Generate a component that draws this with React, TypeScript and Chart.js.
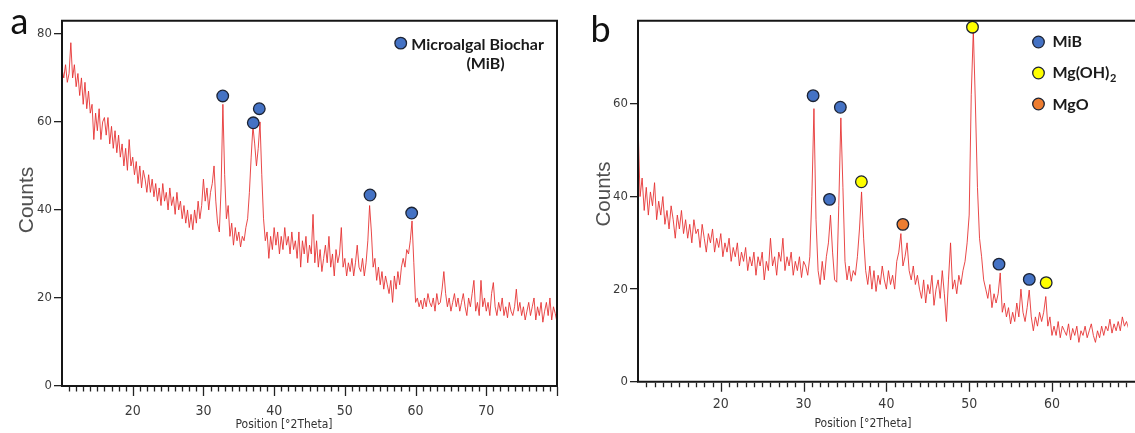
import React, { useEffect, useRef } from 'react';
import { Chart, registerables } from 'chart.js';

Chart.register(...registerables);

// ---------- data ----------
const X_START = 10;
const X_STEP = 0.25;

// Panel a: Microalgal biochar (MiB), counts sampled every 0.25 °2Theta from 10 to 80
const countsA = [
  72, 70, 73, 69, 71, 78, 70, 73, 68,
  71, 66, 70, 64, 69, 63, 67, 62,
  64, 56, 62, 58, 63, 56, 60, 61,
  57, 61, 55, 59, 54, 58, 53, 57,
  52, 55, 50, 54, 49, 56, 50, 52,
  48, 51, 46, 50, 45, 49, 47, 44,
  48, 44, 47, 43, 46, 42, 45, 41,
  46, 42, 44, 40, 45, 41, 43, 39,
  44, 40, 42, 38, 41, 37, 40, 36,
  39, 35.5, 40, 37, 42, 38, 41, 47,
  42, 45, 40, 44, 46, 50, 42, 37,
  35, 45, 64, 48, 38, 41, 34, 37,
  32, 36, 33, 35, 31.6, 34, 33, 36,
  38, 44, 52, 59, 55, 50, 54, 60,
  48, 38, 33, 35, 29, 34, 31, 36,
  32, 35, 30, 34, 31, 36, 32, 34,
  30, 35, 31, 33, 29, 35, 27, 33,
  30, 34, 28, 32, 30, 39, 28, 33,
  27, 31, 26, 29, 32, 28, 34, 27,
  30, 25, 31, 28, 30, 36, 27, 29,
  25, 28, 26, 29, 25, 28, 32, 27,
  26, 29, 25, 28, 33, 41, 35, 27,
  29, 24, 27, 23, 26, 22, 25, 23,
  21, 24, 19, 25, 22, 26, 23, 27,
  29, 27, 31, 30, 33, 37.5, 28, 19,
  20, 18, 19.5, 17.5, 20, 18, 21, 19,
  18, 20, 17, 21, 18.5, 19, 22, 26,
  21, 18, 20, 17, 19, 21, 18, 20,
  17, 19, 21, 18, 16, 20, 18, 21,
  24, 17, 19, 16, 24, 18, 20, 17,
  19, 16, 21, 23.5, 18, 16, 19, 17,
  20, 16, 18, 15.5, 19, 17, 16, 18,
  22, 17, 19, 16, 18, 15, 17, 19,
  16, 18, 20, 15, 18, 16, 19, 14.5,
  17, 19, 16, 20, 15, 18, 16.5, 14.5,
];

// Panel b: MiB + Mg(OH)2 + MgO, counts sampled every 0.25 °2Theta from 10 to 69.25
const countsB = [
  56, 40, 44, 37, 42, 36, 41, 38, 43,
  35, 39, 36, 40, 34, 37, 33, 38,
  35, 31, 36, 33, 37, 32, 35, 31,
  34, 30, 35, 32, 33, 29, 34, 31,
  28, 32, 30, 33, 28, 31, 29, 32,
  27, 30, 28, 31, 26, 29, 27, 30,
  25, 28, 26, 29, 24, 27, 25, 28,
  23, 27, 25, 28, 22, 26, 24, 31,
  25, 27, 23, 28, 26, 31, 24, 27,
  25, 28, 23, 26, 24, 27, 22.5, 26,
  25, 23, 27, 40, 59, 35, 24, 21,
  26, 22, 27, 30, 36, 28, 22, 21.5,
  38, 57, 42, 26, 22, 25, 21.7, 24,
  23, 27, 33, 41, 31, 24, 21, 25,
  20, 24, 19.5, 23, 21, 25, 22, 20,
  24, 21, 23, 20, 26, 28, 32, 25,
  27, 30, 24, 22, 25, 21, 23, 20,
  18, 22, 17, 21, 19, 23, 16.5, 20,
  22, 18, 24, 19, 13, 22, 30, 20,
  22, 19, 23, 21, 24, 26, 30, 36,
  62, 76, 60, 42, 31, 27, 22, 20,
  18, 21, 16, 19, 17, 19, 23.5, 15,
  17, 14, 16, 12.5, 15, 13, 17, 14,
  20, 15, 13, 16, 19.8, 14, 11, 14,
  12, 15, 13, 15, 18.4, 12, 14, 10,
  12, 10, 13, 9.5, 12, 11, 10, 12.5,
  9, 11.5, 10, 12, 8.5, 11, 10, 12,
  9.5, 11, 12.5, 10, 8.5, 11, 9.5, 12,
  10, 12, 11, 13.5, 10.5, 12.5, 11, 13,
  11, 14, 12, 13, 11.5,
];

// peak markers
const mibA_x = [32.73, 37.05, 37.9, 53.56, 59.45];
const mibA_y = [65.9, 59.8, 63.0, 43.4, 39.3];
const mibB_x = [31.15, 33.13, 34.44, 53.6, 57.26];
const mibB_y = [61.8, 39.4, 59.3, 25.4, 22.1];
const mgoh2B_x = [36.98, 50.4, 59.3];
const mgoh2B_y = [43.2, 76.6, 21.4];
const mgoB_x = [41.99];
const mgoB_y = [34.0];

// legend markers (placed in data space)
const legendA_x = [57.9];
const legendA_y = [77.9];
const legendB_x = [58.37, 58.37, 58.37];
const legendB_y = [73.4, 66.7, 60.0];
const legendA_labels = ['Microalgal Biochar', '(MiB)'];
const legendB_labels = ['MiB', 'Mg(OH)', 'MgO'];

const yTicksA = [0, 20, 40, 60, 80];
const yTicksB = [0, 20, 40, 60];
const xTickLabels = [20, 30, 40, 50, 60, 70];

// ---------- styling ----------
const RED = 'rgba(230, 48, 48, 0.88)';
const BLUE = '#4472C4';
const YELLOW = '#FFFF00';
const ORANGE = '#ED7D31';
const OUTLINE = '#1c2333';
const NARROW = '"Liberation Sans Narrow", "DejaVu Sans Condensed", "Arial Narrow", sans-serif';
const LEG_FONT = 'bold 16px Lato, "Open Sans", sans-serif';

const toPts = (xs: number[], ys: number[]) => xs.map((x, i) => ({ x, y: ys[i] }));
const series = (vals: number[]) => vals.map((y, i) => ({ x: X_START + i * X_STEP, y }));

const markerDs = (xs: number[], ys: number[], color: string) => ({
  type: 'scatter' as const,
  data: toPts(xs, ys),
  showLine: false,
  pointRadius: 5.8,
  pointHoverRadius: 5.8,
  pointBackgroundColor: color,
  pointBorderColor: OUTLINE,
  pointBorderWidth: 1.3,
  clip: false as any,
  order: 0,
});

type PanelCfg = {
  letter: string;
  letterX: number;
  letterY: number;
  countsX: number;
  countsY: number;
  countsSize: number;
  posX: number;
  posY: number;
  rightBorder: boolean;
  legend: (chart: any, ctx: CanvasRenderingContext2D) => void;
};

const decorPlugin = (cfg: PanelCfg) => ({
  id: 'decor',
  afterDraw(chart: any) {
    const ctx: CanvasRenderingContext2D = chart.ctx;
    const { left, right, top, bottom } = chart.chartArea;
    const xs = chart.scales.x;
    ctx.save();
    // frame
    ctx.strokeStyle = '#161616';
    ctx.lineWidth = 2;
    ctx.beginPath();
    ctx.moveTo(left, bottom);
    ctx.lineTo(left, top);
    ctx.lineTo(cfg.rightBorder ? right : chart.width + 2, top);
    if (cfg.rightBorder) ctx.lineTo(right, bottom);
    ctx.moveTo(left - 1, bottom);
    ctx.lineTo(cfg.rightBorder ? right + 1 : chart.width + 2, bottom);
    ctx.stroke();
    // x minor/major ticks
    ctx.lineWidth = 1.3;
    ctx.strokeStyle = '#222';
    ctx.beginPath();
    for (let v = Math.ceil(xs.min); v <= Math.floor(xs.max); v++) {
      if (v === xs.min) continue;
      const px = Math.round(xs.getPixelForValue(v)) + 0.5;
      const len = v % 10 === 0 ? 9 : 4.5;
      ctx.moveTo(px, bottom + 1);
      ctx.lineTo(px, bottom + 1 + len);
    }
    ctx.stroke();
    // panel letter
    ctx.fillStyle = '#111';
    ctx.font = '36px Lato, "Open Sans", sans-serif';
    ctx.textAlign = 'left';
    ctx.textBaseline = 'alphabetic';
    ctx.fillText(cfg.letter, cfg.letterX, cfg.letterY);
    // Counts
    ctx.save();
    ctx.translate(cfg.countsX, cfg.countsY);
    ctx.rotate(-Math.PI / 2);
    ctx.fillStyle = '#505050';
    ctx.font = `${cfg.countsSize}px "Liberation Sans", Arial, sans-serif`;
    ctx.textAlign = 'center';
    ctx.textBaseline = 'middle';
    ctx.fillText('Counts', 0, 0);
    ctx.restore();
    // Position label
    ctx.fillStyle = '#333';
    ctx.font = `12px ${NARROW}`;
    ctx.textAlign = 'center';
    ctx.textBaseline = 'middle';
    ctx.fillText('Position [°2Theta]', cfg.posX, cfg.posY);
    // legend texts
    ctx.fillStyle = '#1a1a1a';
    ctx.font = LEG_FONT;
    ctx.textAlign = 'left';
    ctx.textBaseline = 'alphabetic';
    cfg.legend(chart, ctx);
    ctx.restore();
  },
});

const baseOptions = (xMax: number, yMax: number, yTicks: number[], yWidth: number, xHeight: number, padRight: number, xPad: number) => ({
  responsive: false,
  animation: false as const,
  events: [] as any[],
  layout: { padding: { left: 0, right: padRight, top: 20.7, bottom: 0 } },
  plugins: { legend: { display: false }, tooltip: { enabled: false } },
  scales: {
    x: {
      type: 'linear' as const,
      min: X_START,
      max: xMax,
      grid: { display: false },
      border: { display: false },
      ticks: {
        stepSize: 10,
        includeBounds: false,
        autoSkip: false,
        maxRotation: 0,
        padding: xPad,
        color: '#3a3a3a',
        font: { family: NARROW, size: 14 },
        callback: (v: any) => (xTickLabels.includes(Number(v)) && Number(v) < xMax ? String(v) : ''),
      },
      afterFit: (s: any) => { s.height = xHeight; },
    },
    y: {
      type: 'linear' as const,
      min: 0,
      max: yMax,
      grid: { display: true, drawOnChartArea: false, drawTicks: true, tickLength: 8, color: '#222', lineWidth: 1.3 },
      border: { display: false },
      ticks: {
        stepSize: 20,
        includeBounds: false,
        padding: 2,
        color: '#3a3a3a',
        font: { family: NARROW, size: 13 },
        callback: (v: any) => (yTicks.includes(Number(v)) ? String(v) : ''),
      },
      afterFit: (s: any) => { s.width = yWidth; },
    },
  },
});

function PanelA() {
  const ref = useRef<HTMLCanvasElement | null>(null);
  useEffect(() => {
    if (!ref.current) return;
    const legend = (chart: any, ctx: CanvasRenderingContext2D) => {
      const px = chart.scales.x.getPixelForValue(legendA_x[0]);
      const py = chart.scales.y.getPixelForValue(legendA_y[0]);
      ctx.fillText(legendA_labels[0], px + 10.5, py + 6.5);
      const w = ctx.measureText(legendA_labels[0]).width;
      ctx.textAlign = 'center';
      ctx.fillText(legendA_labels[1], px + 10.5 + w * 0.56, py + 26);
    };
    const chart = new Chart(ref.current, {
      type: 'line',
      data: {
        datasets: [
          markerDs(mibA_x, mibA_y, BLUE) as any,
          markerDs(legendA_x, legendA_y, BLUE) as any,
          {
            data: series(countsA),
            borderColor: RED,
            borderWidth: 1,
            pointRadius: 0,
            tension: 0,
            order: 1,
          },
        ],
      },
      options: baseOptions(80, 83.0, yTicksA, 62, 47, 13, 9) as any,
      plugins: [decorPlugin({
        letter: 'a', letterX: 10.5, letterY: 33.5,
        countsX: 27, countsY: 200, countsSize: 21,
        posX: 284, posY: 425, rightBorder: true, legend,
      })],
    });
    return () => chart.destroy();
  }, []);
  return <canvas ref={ref} width={570} height={433} style={{ position: 'absolute', left: 0, top: 0, width: 570, height: 433 }} />;
}

function PanelB() {
  const ref = useRef<HTMLCanvasElement | null>(null);
  useEffect(() => {
    if (!ref.current) return;
    const legend = (chart: any, ctx: CanvasRenderingContext2D) => {
      const xs = chart.scales.x;
      const ys = chart.scales.y;
      legendB_labels.forEach((lab, i) => {
        const px = xs.getPixelForValue(legendB_x[i]) + 14;
        const py = ys.getPixelForValue(legendB_y[i]) + 5.5;
        ctx.font = LEG_FONT;
        ctx.fillText(lab, px, py);
        if (lab === 'Mg(OH)') {
          const w = ctx.measureText(lab).width;
          ctx.font = 'bold 11px Lato, "Open Sans", sans-serif';
          ctx.fillText('2', px + w + 0.5, py + 4);
        }
      });
    };
    const chart = new Chart(ref.current, {
      type: 'line',
      data: {
        datasets: [
          markerDs(mibB_x, mibB_y, BLUE) as any,
          markerDs(mgoh2B_x, mgoh2B_y, YELLOW) as any,
          markerDs(mgoB_x, mgoB_y, ORANGE) as any,
          markerDs([legendB_x[0]], [legendB_y[0]], BLUE) as any,
          markerDs([legendB_x[1]], [legendB_y[1]], YELLOW) as any,
          markerDs([legendB_x[2]], [legendB_y[2]], ORANGE) as any,
          {
            data: series(countsB),
            borderColor: RED,
            borderWidth: 1,
            pointRadius: 0,
            tension: 0,
            order: 1,
          },
        ],
      },
      options: baseOptions(69.17, 78.0, yTicksB, 68, 51.3, 0, 6) as any,
      plugins: [decorPlugin({
        letter: 'b', letterX: 20.5, letterY: 41.5,
        countsX: 34.5, countsY: 194, countsSize: 20.5,
        posX: 293, posY: 424, rightBorder: false, legend,
      })],
    });
    return () => chart.destroy();
  }, []);
  return <canvas ref={ref} width={565} height={433} style={{ position: 'absolute', left: 570, top: 0, width: 565, height: 433 }} />;
}

export default function App() {
  return (
    <div style={{ position: 'fixed', left: 0, top: 0, width: 1135, height: 433, background: '#fff', overflow: 'hidden' }}>
      <PanelA />
      <PanelB />
    </div>
  );
}
